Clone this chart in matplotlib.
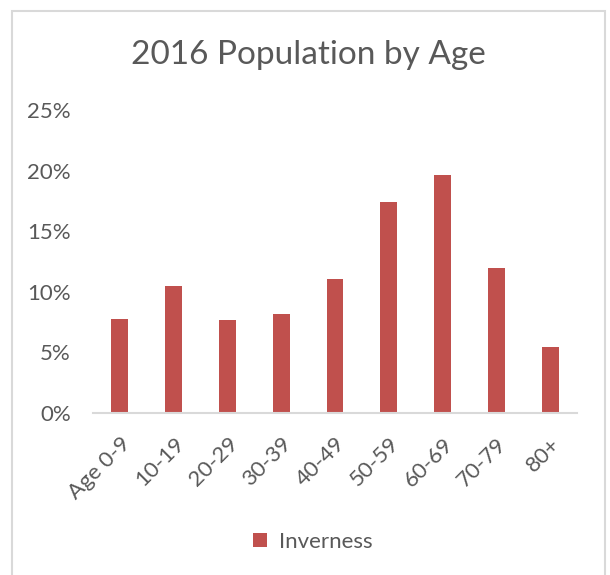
import matplotlib
matplotlib.use("Agg")
from matplotlib import pyplot as plt
from matplotlib.patches import Rectangle
from matplotlib.ticker import PercentFormatter
from matplotlib.transforms import ScaledTranslation

# data
age_groups = ["Age 0-9", "10-19", "20-29", "30-39", "40-49", "50-59", "60-69", "70-79", "80+"]
inverness = [0.0778, 0.105, 0.0767, 0.0814, 0.1108, 0.1738, 0.1964, 0.1194, 0.0545]

plt.rcParams["font.family"] = ["Lato", "DejaVu Sans"]
text_color = "#595959"
bar_color = "#C0504D"

fig = plt.figure(figsize=(6.1, 5.75), dpi=100)

# outer chart border
fig.patches.append(Rectangle((12 / 610, -0.01), 593 / 610, 1 - 11 / 575 + 0.01,
                             transform=fig.transFigure, fill=False,
                             edgecolor="#D9D9D9", linewidth=1.5))

ax = fig.add_axes([93 / 610, 1 - 413 / 575, 484 / 610, 303 / 575])
x = range(len(age_groups))
ax.bar(x, inverness, width=0.316, color=bar_color, label="Inverness")

ax.set_xlim(-0.5, len(age_groups) - 0.5)
ax.set_ylim(0, 0.25)
ax.set_yticks([0, 0.05, 0.10, 0.15, 0.20, 0.25])
ax.yaxis.set_major_formatter(PercentFormatter(1.0, decimals=0))
ax.set_xticks(list(x))
ax.set_xticklabels(age_groups, rotation=45, ha="right", rotation_mode="anchor")

# nudge the rotated labels a little to the right, like the original
shift = ScaledTranslation(4 / 100, 0, fig.dpi_scale_trans)
for lbl in ax.get_xticklabels():
    lbl.set_transform(lbl.get_transform() + shift)

for side in ["top", "right", "left"]:
    ax.spines[side].set_visible(False)
ax.spines["bottom"].set_color("#D9D9D9")
ax.spines["bottom"].set_linewidth(1.5)
ax.tick_params(axis="both", length=0, labelsize=16, colors=text_color)
ax.tick_params(axis="y", pad=16)
ax.tick_params(axis="x", pad=15)

fig.text(308 / 610, 1 - 55 / 575, "2016 Population by Age", ha="center", va="center",
         fontsize=24, color=text_color)

fig.legend(loc="center", bbox_to_anchor=(313 / 610, 1 - 542 / 575), frameon=False,
           fontsize=16, labelcolor=text_color, handlelength=0.63, handleheight=0.63,
           handletextpad=0.55)

plt.savefig("out.png", dpi=100)
